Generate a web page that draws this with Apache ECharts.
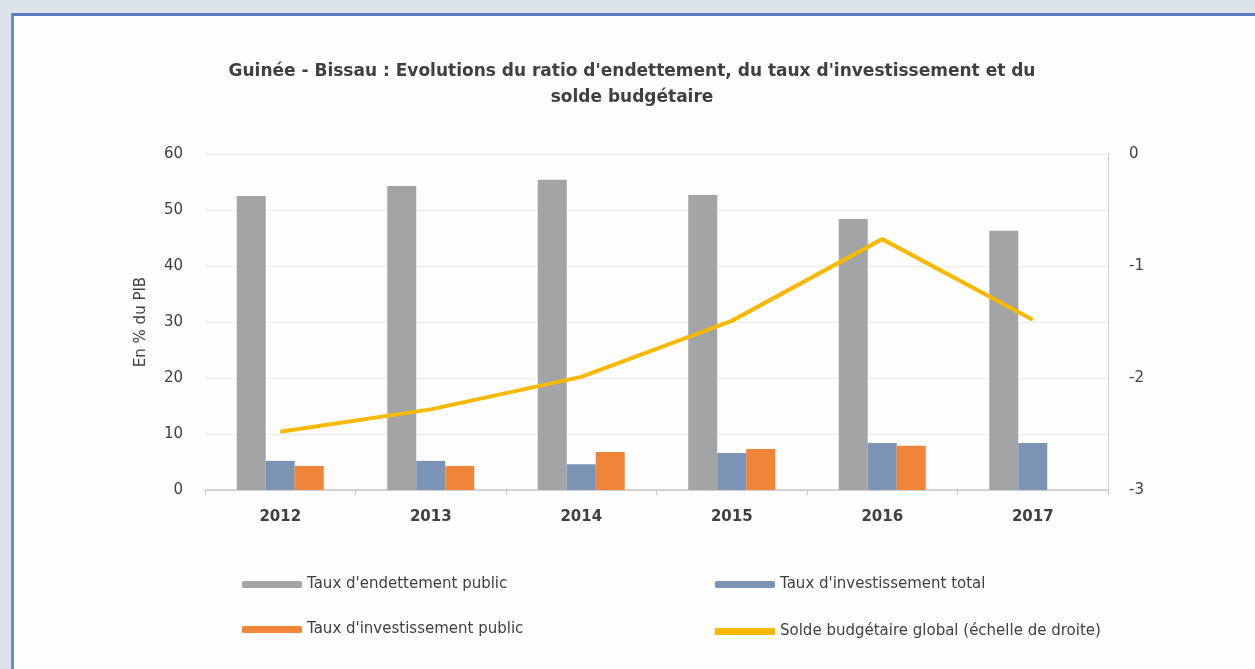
<!DOCTYPE html>
<html>
<head>
<meta charset="utf-8">
<script src="https://cdn.jsdelivr.net/npm/echarts@6/dist/echarts.min.js"></script>
<style>
  html, body { margin: 0; padding: 0; background: #dde3ea; }
  #frame { position: absolute; left: 11px; top: 13px; width: 1244px; height: 656px;
           background: #fdfdfd; border-top: 3px solid #5b7fc0; border-left: 3px solid #6a8cc8; }
  #chart { position: absolute; left: 0; top: 0; width: 1255px; height: 669px; }
</style>
</head>
<body>
<div id="frame"></div>
<div id="chart"></div>
<script>
  // données
  let years = ['2012', '2013', '2014', '2015', '2016', '2017']
  let endettement = [52.5, 54.3, 55.4, 52.7, 48.4, 46.3]
  let investTotal = [5.2, 5.2, 4.6, 6.6, 8.4, 8.4]
  let investPublic = [4.3, 4.3, 6.8, 7.3, 7.9, null]
  let soldeBudget = [-2.48, -2.28, -1.99, -1.49, -0.76, -1.48]

  let leftTicks = [0, 60, 10]
  let rightTicks = [-3, 0, 1]

  let names = ["Taux d'endettement public", "Taux d'investissement total",
    "Taux d'investissement public", "Solde budgétaire global (échelle de droite)"]

  let font = 'DejaVu Sans, Liberation Sans, sans-serif'
  let textColor = '#404040'

  let chart = echarts.init(document.getElementById('chart'))

  let legendBase = {
    orient: 'horizontal',
    itemWidth: 60,
    itemHeight: 7,
    textStyle: {fontFamily: font, fontSize: 15, color: textColor}
  }

  chart.setOption({
    backgroundColor: 'transparent',
    title: {
      text: "Guinée - Bissau : Evolutions du ratio d'endettement, du taux d'investissement et du\nsolde budgétaire",
      left: 627,
      top: 54,
      textAlign: 'center',
      textStyle: {fontFamily: font, fontSize: 17, fontWeight: 'bold', color: textColor, lineHeight: 26}
    },
    legend: [
      Object.assign({left: 237, top: 572, data: [names[0]]}, legendBase),
      Object.assign({left: 710, top: 572, data: [names[1]]}, legendBase),
      Object.assign({left: 237, top: 617, data: [names[2]]}, legendBase),
      Object.assign({left: 710, top: 619, itemHeight: 4, data: [{name: names[3], icon: 'rect'}]}, legendBase)
    ],
    grid: {left: 205, right: 147, top: 154, bottom: 179},
    xAxis: {
      type: 'category',
      data: years,
      axisLine: {lineStyle: {color: '#c8c8c8', width: 1.5}},
      axisTick: {show: true, length: 5, lineStyle: {color: '#c8c8c8'}},
      axisLabel: {fontFamily: font, fontSize: 15, fontWeight: 'bold', color: textColor, margin: 20}
    },
    yAxis: [
      {
        type: 'value',
        min: leftTicks[0],
        max: leftTicks[1],
        interval: leftTicks[2],
        name: 'En % du PIB',
        nameLocation: 'middle',
        nameRotate: 90,
        nameGap: 56,
        nameTextStyle: {fontFamily: font, fontSize: 15, color: textColor},
        axisLine: {show: false},
        axisTick: {show: false},
        axisLabel: {fontFamily: font, fontSize: 15, color: textColor, margin: 22},
        splitLine: {lineStyle: {color: '#ececec'}}
      },
      {
        type: 'value',
        position: 'right',
        min: rightTicks[0],
        max: rightTicks[1],
        interval: rightTicks[2],
        axisLine: {show: true, lineStyle: {color: '#d0d0d0'}},
        axisTick: {show: false},
        axisLabel: {fontFamily: font, fontSize: 15, color: textColor, margin: 21},
        splitLine: {show: false}
      }
    ],
    series: [
      {
        name: names[0],
        type: 'bar',
        barWidth: 29,
        barGap: '0%',
        itemStyle: {color: '#a3a4a6'},
        data: endettement
      },
      {
        name: names[1],
        type: 'bar',
        barWidth: 29,
        barGap: '0%',
        itemStyle: {color: '#7b94b6'},
        data: investTotal
      },
      {
        name: names[2],
        type: 'bar',
        barWidth: 29,
        barGap: '0%',
        itemStyle: {color: '#f0853a'},
        data: investPublic
      },
      {
        name: names[3],
        type: 'line',
        yAxisIndex: 1,
        symbol: 'none',
        lineStyle: {color: '#f7b900', width: 4},
        itemStyle: {color: '#f7b900'},
        data: soldeBudget
      }
    ]
  })
</script>
</body>
</html>
